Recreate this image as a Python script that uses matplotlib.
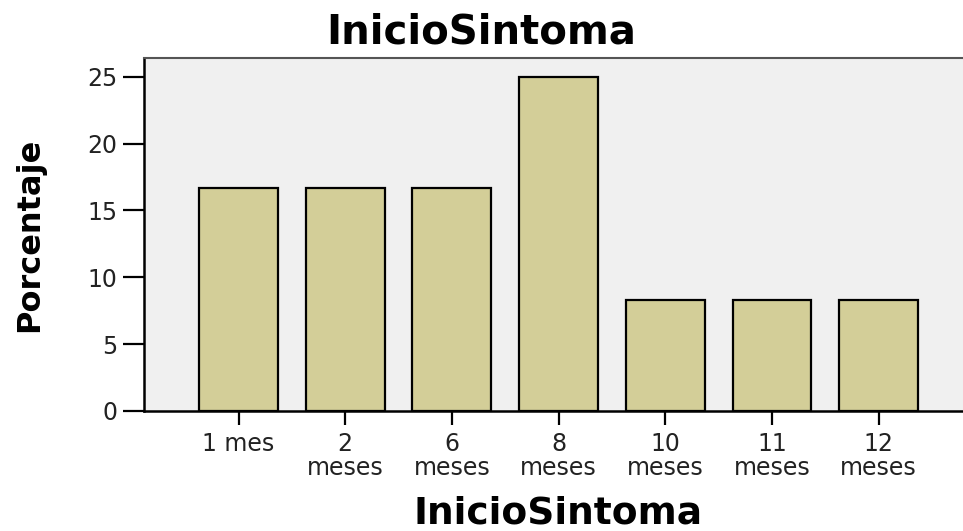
import matplotlib
matplotlib.use("Agg")
import matplotlib.pyplot as plt

plt.rcParams["font.family"] = ["DejaVu Sans"]

# datos (porcentaje por categoria)
categorias = ["1 mes", "2\nmeses", "6\nmeses", "8\nmeses", "10\nmeses", "11\nmeses", "12\nmeses"]
porcentaje = [16.67, 16.67, 16.67, 25.0, 8.33, 8.33, 8.33]

fig = plt.figure(figsize=(9.63, 5.31), dpi=100)
ax = fig.add_axes([144 / 963, 120 / 531, 1 - 144 / 963, 353 / 531])
ax.set_facecolor("#f0f0f0")

x = list(range(len(categorias)))
ax.bar(x, porcentaje, width=0.74, color="#d3ce98", edgecolor="black", linewidth=1.6, zorder=2)

ax.set_xlim(-0.886, 6.79)
ax.set_ylim(0, 26.4)
ax.set_yticks([0, 5, 10, 15, 20, 25])
ax.set_xticks(x)
ax.set_xticklabels(categorias, linespacing=1.0)

ax.tick_params(axis="y", length=15, width=1.6, pad=4, labelsize=17, colors="black", labelcolor="#222222")
ax.tick_params(axis="x", length=10, width=1.6, pad=5, labelsize=17, colors="black", labelcolor="#222222")

for s in ["left", "bottom"]:
    ax.spines[s].set_linewidth(1.8)
    ax.spines[s].set_color("black")
ax.spines["top"].set_linewidth(1.5)
ax.spines["top"].set_color("#555555")
ax.spines["right"].set_visible(False)

fig.text(0.5, (531 - 43) / 531, "InicioSintoma", ha="center", va="baseline",
         fontsize=29, fontweight="bold")
fig.text(558 / 963, 0.014, "InicioSintoma", ha="center", va="baseline",
         fontsize=27, fontweight="bold")
fig.text(30 / 963, (531 - 234.5) / 531, "Porcentaje", ha="center", va="center",
         rotation=90, fontsize=23, fontweight="bold")

fig.savefig("out.png", dpi=100)
